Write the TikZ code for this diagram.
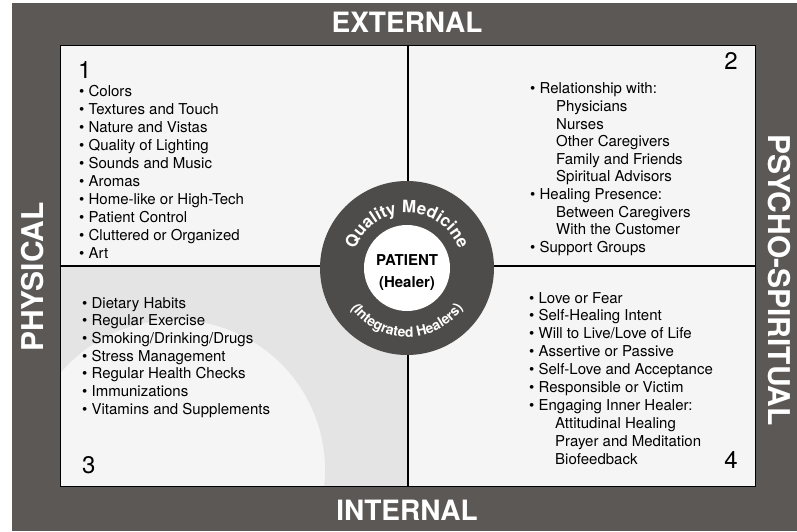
\documentclass[tikz,border=0pt]{standalone}
\usepackage{fontspec}
\setmainfont{TeX Gyre Heros}
\usetikzlibrary{positioning}
\usetikzlibrary{decorations.text}
\definecolor{frame}{RGB}{92,88,86}
\definecolor{ring}{RGB}{78,76,74}
\definecolor{paper}{RGB}{245,245,245}
\definecolor{mist}{RGB}{228,228,228}
\newcommand{\qbul}{\textbullet\ }
\newcommand{\qsub}{\hspace*{26pt}}

\begin{document}
\begin{tikzpicture}[x=1pt, y=1pt,
				item/.style = {anchor=base west, inner sep=0pt,
					font=\fontsize{15}{18}\selectfont},
				corner/.style = {inner sep=0pt, font=\fontsize{24}{24}\selectfont},
				side/.style = {text=white, inner sep=0pt, anchor=base,
					font=\bfseries\fontsize{28}{28}\selectfont}]
				
				\useasboundingbox (0,0) rectangle (797,531);
				\fill[white] (0,0) rectangle (797,531);
				\fill[frame] (12,0) rectangle (797,528);
				
				% Board
				\node[fill=paper, minimum width=695pt, minimum height=440pt,
					inner sep=0pt] (board) at (408,265) {};
				
				% Watermark in quadrant 3
				\begin{scope}
					\clip (board.south west) rectangle (board.center);
					\fill[mist] (board.south west) rectangle (board.center);
					\fill[paper] (175,61) circle (150);
				\end{scope}
				
				\draw[line width=1.2pt] (board.south west) rectangle (board.north east);
				\draw[line width=1.6pt] (board.north) -- (board.south);
				\draw[line width=1.6pt] (board.west) -- (board.east);
				
				% Outer labels
				\node[side] (ext) at (407,498) {EXTERNAL};
				\node[side] (int) at (407,11) {INTERNAL};
				\node[side, rotate=90, font=\bfseries\fontsize{30}{30}\selectfont] (phys) at (43,254) {PHYSICAL};
				\node[side, rotate=-90, font=\bfseries\fontsize{30}{30}\selectfont] (psy) at (768,251) {PSYCHO-SPIRITUAL};
				
				% Quadrant numbers
				\node[corner, anchor=base west] (n1) at (78,452) {1};
				\node[corner, anchor=base east] (n2) at (738,461) {2};
				\node[corner, anchor=base west] (n3) at (82,58) {3};
				\node[corner, anchor=base east] (n4) at (738,63) {4};
				
				% Quadrant 1
				\foreach \t [count=\i from 0] in {Colors, Textures and Touch,
					Nature and Vistas, Quality of Lighting, Sounds and Music, Aromas,
					Home-like or High-Tech, Patient Control, Cluttered or Organized, Art}
				\node[item] (q1-\i) at (79, 434-17.9*\i) {\qbul\t};
				
				% Quadrant 2
				\foreach \t [count=\i from 0] in {\qbul Relationship with:,
					\qsub Physicians, \qsub Nurses, \qsub Other Caregivers,
					\qsub Family and Friends, \qsub Spiritual Advisors,
					\qbul Healing Presence:, \qsub Between Caregivers,
					\qsub With the Customer, \qbul Support Groups}
				\node[item] (q2-\i) at (530, 437-17.6*\i) {\t};
				
				% Quadrant 3
				\foreach \t [count=\i from 0] in {Dietary Habits, Regular Exercise,
					{Smoking/Drinking/Drugs}, Stress Management, Regular Health Checks,
					Immunizations, Vitamins and Supplements}
				\node[item] (q3-\i) at (82, 223-17.7*\i) {\qbul\t};
				
				% Quadrant 4
				\foreach \t [count=\i from 0] in {\qbul Love or Fear,
					\qbul Self-Healing Intent, {\qbul Will to Live/Love of Life},
					\qbul Assertive or Passive, \qbul Self-Love and Acceptance,
					\qbul Responsible or Victim, \qbul Engaging Inner Healer:,
					\qsub Attitudinal Healing, \qsub Prayer and Meditation,
					\qsub Biofeedback}
				\node[item] (q4-\i) at (529, 228-17.9*\i) {\t};
				
				% Patient circle
				\node[circle, fill=ring, minimum size=174pt, inner sep=0pt] (hub) at (407,263) {};
				\node[circle, fill=white, minimum size=86pt, inner sep=0pt] (core) at (hub.center) {};
				\node[anchor=base, inner sep=0pt, font=\bfseries\fontsize{15}{15}\selectfont]
					(patient) at ([yshift=3pt]core.center) {PATIENT};
				\node[anchor=base, inner sep=0pt, font=\bfseries\fontsize{15}{15}\selectfont]
					(healer) at ([yshift=-19pt]core.center) {(Healer)};
				
				\path[decorate, decoration={text along path, text align=center,
					text={|\bfseries\fontsize{17}{17}\selectfont\color{white}|Quality Medicine}}]
					(hub.center) ++(160:55) arc[start angle=160, end angle=20, radius=55];
				\path[decorate, decoration={text along path, text align=center,
					text={|\bfseries\fontsize{14}{14}\selectfont\color{white}|(Integrated Healers)}}]
					(hub.center) ++(205:69) arc[start angle=205, end angle=335, radius=69];
				
		\end{tikzpicture}
\end{document}
